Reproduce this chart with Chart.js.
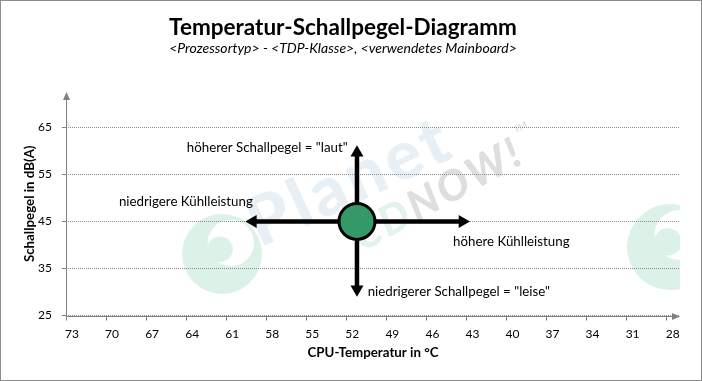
<!DOCTYPE html>
<html>
<head>
<meta charset="utf-8">
<script src="https://cdn.jsdelivr.net/npm/chart.js@4.4.1/dist/chart.umd.min.js"></script>
<style>
  html, body { margin: 0; padding: 0; background: #fff; }
  .chart-box { width: 700px; height: 379px; border: 1px solid #8c8c8c; }
  canvas { display: block; }
</style>
</head>
<body>
<div class="chart-box"><canvas id="tsChart" width="700" height="379"></canvas></div>
<script>
// Achsen-Ticks
const xTicks = [73, 70, 67, 64, 61, 58, 55, 52, 49, 46, 43, 40, 37, 34, 31, 28];
const yTicks = [25, 35, 45, 55, 65];

// Messpunkt (Mitte)
const pointX = [51.2];
const pointY = [45];

// Pfeile (Endpunkte in Achsenwerten)
const arrowHX = [59.0, 43.3];
const arrowHY = [45, 45];
const arrowVX = [51.2, 51.2];
const arrowVY = [59.6, 30.6];

// Beschriftungen im Diagramm
const noteTexts = ['höherer Schallpegel = "laut"', 'niedrigere Kühlleistung', 'höhere Kühlleistung', 'niedrigerer Schallpegel = "leise"'];
const noteX = [51.9, 59.0, 44.0, 50.4];
const noteY = [60.6, 49.2, 40.7, 30.1];
const noteAlign = ['right', 'right', 'left', 'left'];

const FONT = 'Lato, "Open Sans", sans-serif';
const AXIS_GRAY = '#808080';

const toPoints = (xs, ys) => xs.map((x, i) => ({ x: x, y: ys[i] }));

// Wasserzeichen (nur Deko, blass)
const watermarkPlugin = {
    id: 'watermark',
    beforeDraw(chart) {
        const { ctx, chartArea: a } = chart;
        ctx.save();
        ctx.beginPath();
        ctx.rect(a.left, a.top, a.right - a.left, a.bottom - a.top);
        ctx.clip();

        function logo(cx, cy, r) {
            ctx.fillStyle = '#dcf2e8';
            ctx.beginPath(); ctx.arc(cx, cy, r, 0, Math.PI * 2); ctx.fill();
            ctx.fillStyle = '#ffffff';
            ctx.beginPath(); ctx.arc(cx + r * 0.22, cy - r * 0.28, r * 0.58, 0, Math.PI * 2); ctx.fill();
            ctx.fillStyle = '#dcf2e8';
            ctx.beginPath(); ctx.arc(cx - r * 0.05, cy - r * 0.12, r * 0.32, 0, Math.PI * 2); ctx.fill();
        }
        logo(a.left + 156, a.top + 162, 40);
        logo(a.left + 604, a.top + 155, 43);

        function cdnow(x, y) {
            ctx.save();
            ctx.translate(x, y);
            ctx.rotate(-29 * Math.PI / 180);
            ctx.font = 'italic 900 42px ' + FONT;
            ctx.letterSpacing = '3px';
            ctx.fillStyle = 'rgba(175, 222, 198, 0.35)';
            ctx.fillText('CD', 0, 0);
            const w = ctx.measureText('CD').width;
            ctx.fillStyle = 'rgba(190, 190, 190, 0.5)';
            ctx.fillText('NOW!', w, 0);
            const w2 = ctx.measureText('NOW!').width;
            ctx.letterSpacing = '0px';
            ctx.font = 'bold 9px ' + FONT;
            ctx.fillText('TM', w + w2 + 4, -30);
            ctx.restore();
        }

        ctx.save();
        ctx.translate(a.left + 194, a.top + 156);
        ctx.rotate(-25 * Math.PI / 180);
        ctx.font = '900 68px ' + FONT;
        ctx.letterSpacing = '4px';
        ctx.fillStyle = 'rgba(205, 222, 232, 0.45)';
        ctx.fillText('Planet', 0, 0);
        ctx.restore();

        cdnow(a.left + 297, a.top + 160);
        cdnow(a.left - 160, a.top + 160);
        ctx.restore();
    }
};

// Achsenlinien mit Pfeilspitzen
const axisArrowPlugin = {
    id: 'axisArrows',
    beforeDatasetsDraw(chart) {
        const { ctx, chartArea: a } = chart;
        const x0 = Math.round(a.left) + 0.5;
        const y0 = Math.round(a.bottom) + 0.5;
        ctx.save();
        ctx.strokeStyle = AXIS_GRAY;
        ctx.fillStyle = AXIS_GRAY;
        ctx.lineWidth = 1;
        ctx.beginPath();
        ctx.moveTo(x0, a.top + 6);
        ctx.lineTo(x0, y0);
        ctx.lineTo(a.right - 6, y0);
        ctx.stroke();
        ctx.beginPath();
        ctx.moveTo(x0, a.top);
        ctx.lineTo(x0 - 3.5, a.top + 8);
        ctx.lineTo(x0 + 3.5, a.top + 8);
        ctx.closePath();
        ctx.fill();
        ctx.beginPath();
        ctx.moveTo(a.right, y0);
        ctx.lineTo(a.right - 8, y0 - 3.5);
        ctx.lineTo(a.right - 8, y0 + 3.5);
        ctx.closePath();
        ctx.fill();
        ctx.restore();
    }
};

// Textbeschriftungen an Achsenwerten
const notesPlugin = {
    id: 'notes',
    afterDatasetsDraw(chart) {
        const { ctx } = chart;
        const xs = chart.scales.x, ys = chart.scales.y;
        ctx.save();
        ctx.font = '13.3px ' + FONT;
        ctx.fillStyle = '#000';
        ctx.textBaseline = 'middle';
        noteTexts.forEach((t, i) => {
            ctx.textAlign = noteAlign[i];
            ctx.fillText(t, xs.getPixelForValue(noteX[i]), ys.getPixelForValue(noteY[i]));
        });
        ctx.restore();
    }
};

const ctx = document.getElementById('tsChart');
new Chart(ctx, {
    type: 'scatter',
    data: {
        datasets: [
            {
                label: 'Messpunkt',
                data: toPoints(pointX, pointY),
                backgroundColor: '#339966',
                borderColor: '#000',
                borderWidth: 3,
                pointRadius: 18,
                pointHoverRadius: 18,
                order: 0
            },
            {
                label: 'Kühlleistung',
                data: toPoints(arrowHX, arrowHY),
                showLine: true,
                borderColor: '#000',
                borderWidth: 4.5,
                pointStyle: 'triangle',
                pointRadius: 7.5,
                pointHoverRadius: 7.5,
                pointRotation: [-90, 90],
                pointBackgroundColor: '#000',
                pointBorderWidth: 0,
                order: 1
            },
            {
                label: 'Schallpegel',
                data: toPoints(arrowVX, arrowVY),
                showLine: true,
                borderColor: '#000',
                borderWidth: 4.5,
                pointStyle: 'triangle',
                pointRadius: 7.5,
                pointHoverRadius: 7.5,
                pointRotation: [0, 180],
                pointBackgroundColor: '#000',
                pointBorderWidth: 0,
                order: 1
            }
        ]
    },
    options: {
        responsive: false,
        animation: false,
        devicePixelRatio: 1,
        layout: { padding: { top: 0, left: 0, right: 16, bottom: 0 } },
        plugins: {
            legend: { display: false },
            tooltip: { enabled: false },
            title: {
                display: true,
                text: 'Temperatur-Schallpegel-Diagramm',
                color: '#000',
                font: { family: FONT, size: 22.5, weight: 'bold', lineHeight: 1.1 },
                padding: { top: 14.5, bottom: 0 }
            },
            subtitle: {
                display: true,
                text: '<Prozessortyp> - <TDP-Klasse>, <verwendetes Mainboard>',
                color: '#000',
                font: { family: FONT, size: 14, style: 'italic', lineHeight: 1.2 },
                padding: { top: 0, bottom: 35 }
            }
        },
        scales: {
            x: {
                type: 'linear',
                reverse: true,
                min: 27,
                max: 73,
                afterBuildTicks: s => { s.ticks = xTicks.map(v => ({ value: v })); },
                afterFit: s => { s.height = 64.5; },
                border: { display: false },
                grid: { drawOnChartArea: false, drawTicks: true, tickLength: 5, tickColor: AXIS_GRAY },
                ticks: {
                    color: '#000',
                    font: { family: FONT, size: 12 },
                    padding: 6,
                    labelOffset: 6,
                    autoSkip: false,
                    maxRotation: 0
                },
                title: {
                    display: true,
                    text: 'CPU-Temperatur in °C',
                    color: '#000',
                    font: { family: FONT, size: 13.3, weight: 'bold', lineHeight: 1.2 },
                    padding: { top: 0, bottom: 19 }
                }
            },
            y: {
                min: 25,
                max: 72.5,
                afterBuildTicks: s => { s.ticks = yTicks.map(v => ({ value: v })); },
                afterFit: s => { s.width = 65; },
                border: { display: false, dash: [1, 1] },
                grid: { color: '#8a8a8a', lineWidth: 1, tickLength: 4, tickColor: AXIS_GRAY, tickBorderDash: [] },
                ticks: {
                    color: '#000',
                    font: { family: FONT, size: 12 },
                    padding: 10
                },
                title: {
                    display: true,
                    text: 'Schallpegel in dB(A)',
                    color: '#000',
                    font: { family: FONT, size: 13.3, weight: 'bold', lineHeight: 1.2 },
                    padding: { top: 21, bottom: 0 }
                }
            }
        }
    },
    plugins: [watermarkPlugin, axisArrowPlugin, notesPlugin]
});
</script>
</body>
</html>
